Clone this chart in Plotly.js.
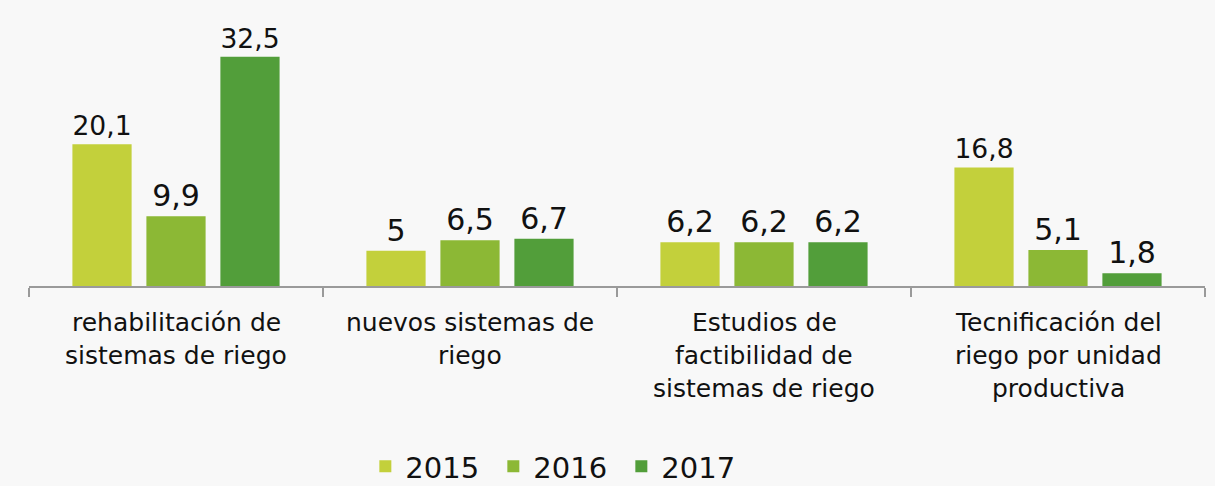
<!DOCTYPE html>
<html>
<head>
<meta charset="utf-8">
<script src="https://cdn.plot.ly/plotly-3.0.1.min.js"></script>
<style>html,body{margin:0;padding:0;background:#f7f7f7;}#chart{width:1215px;height:486px;}</style>
</head>
<body>
<div id="chart"></div>
<script>
const categories = [
  "rehabilitación de<br>sistemas de riego",
  "nuevos sistemas de<br>riego",
  "Estudios de<br>factibilidad de<br>sistemas de riego",
  "Tecnificación del<br>riego por unidad<br>productiva"
];
const seriesNames = ["2015", "2016", "2017"];
const values2015 = [20.1, 5, 6.2, 16.8];
const values2016 = [9.9, 6.5, 6.2, 5.1];
const values2017 = [32.5, 6.7, 6.2, 1.8];
const colors = ["#C3D03B", "#8CB835", "#529E3A"];

const FONT = '"DejaVu Sans", Lato, sans-serif';
const allValues = [values2015, values2016, values2017];
const fmt = v => String(v).replace('.', ',');
const traces = allValues.map((vals, i) => ({
  type: 'bar',
  name: seriesNames[i],
  x: categories,
  y: vals,
  marker: {color: colors[i]},
  text: vals.map(fmt),
  textposition: 'outside',
  cliponaxis: false,
  textfont: {size: 30, color: '#111', family: FONT},
  hoverinfo: 'none'
}));

// category labels, one line at a time for the reference's wide line spacing
const annotations = [];
categories.forEach(cat => {
  cat.split('<br>').forEach((line, j) => {
    annotations.push({
      x: cat, xref: 'x', y: 0, yref: 'paper',
      text: line, showarrow: false,
      xanchor: 'center', yanchor: 'middle',
      yshift: -36 - 33 * j,
      font: {size: 25, color: '#111', family: FONT}
    });
  });
});

const layout = {
  width: 1215, height: 486,
  margin: {l: 29, r: 10, t: 30, b: 200, autoexpand: false},
  paper_bgcolor: '#f8f8f8',
  plot_bgcolor: 'rgba(0,0,0,0)',
  font: {family: FONT, color: '#111'},
  barmode: 'group',
  bargap: 0.245,
  bargroupgap: 0.2,
  showlegend: true,
  legend: {orientation: 'h', x: 0.286, xanchor: 'left', y: -0.705, yanchor: 'middle',
           entrywidth: 83, entrywidthmode: 'pixels',
           font: {size: 29, color: '#111', family: FONT}, traceorder: 'normal'},
  annotations: annotations,
  xaxis: {
    type: 'category',
    showline: true, linecolor: '#9a9a9a', linewidth: 1.5,
    ticks: 'outside', tickson: 'boundaries', ticklen: 9, tickcolor: '#9a9a9a', tickwidth: 1.5,
    showticklabels: false,
    showgrid: false, zeroline: false, fixedrange: true
  },
  yaxis: {
    range: [0, 36.3], visible: false, showgrid: false, zeroline: false, fixedrange: true
  }
};

Plotly.newPlot('chart', traces, layout, {displayModeBar: false, staticPlot: true});
</script>
</body>
</html>
